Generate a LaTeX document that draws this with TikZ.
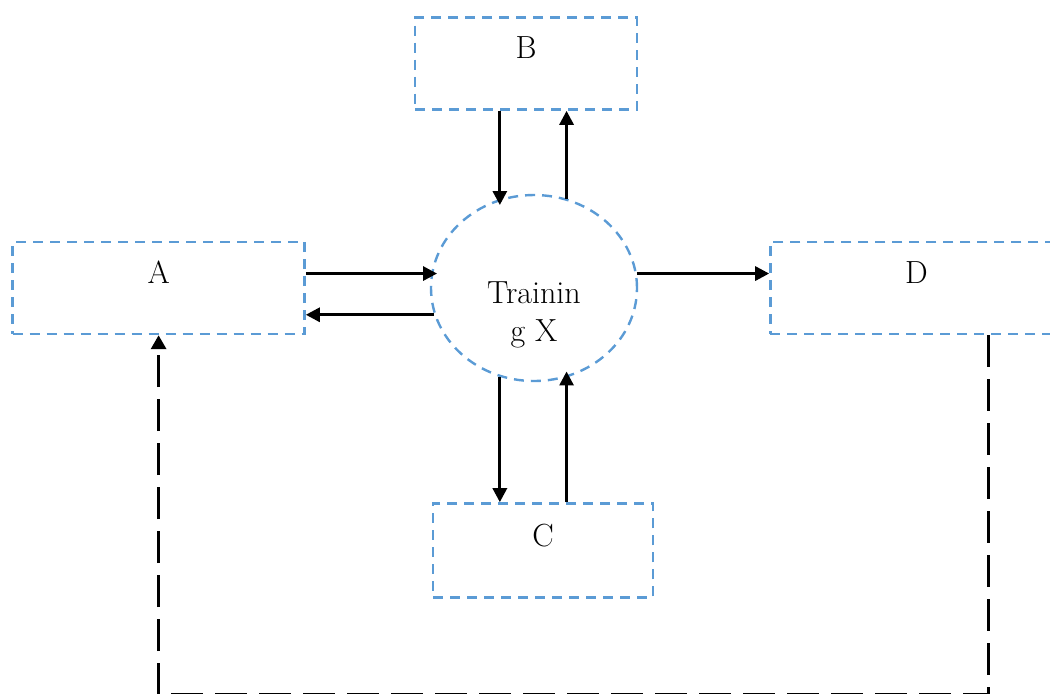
\documentclass[tikz,border=0pt]{standalone}
\usepackage{tikz}
\usepackage{xcolor}
\usetikzlibrary{positioning, shapes.geometric, arrows.meta}
\definecolor{box-blue}{RGB}{91,155,213}

\begin{document}
\begin{tikzpicture}
[
font=\fontsize{16}{19}\selectfont,
box-a/.style={rectangle, draw=box-blue, line width=1.2pt, dash pattern=on 5pt off 3.5pt, minimum height=46pt, inner sep=0pt},
hub-a/.style={ellipse, draw=box-blue, line width=1.2pt, dash pattern=on 5pt off 3.5pt, minimum width=103pt, minimum height=93pt, inner sep=0pt},
text-a/.style={black, inner sep=0pt},
arrow-a/.style={black, line width=1.5pt, -{Triangle[length=7pt, width=7pt]}},
loop-a/.style={black, line width=1.6pt, dash pattern=on 16pt off 6pt, -{Triangle[length=7pt, width=7.5pt]}}
]
\useasboundingbox (0,0) rectangle (525pt,-346.5pt);
\clip (0,0) rectangle (525pt,-346.5pt);
\node (train)      [hub-a                                          ] at (267pt,-144pt) {};
\node (A)          [box-a, minimum width=146pt, left  = 62pt of train] {};
\node (D)          [box-a, minimum width=146pt, right = 65.5pt of train] {};
\node (B)          [box-a, minimum width=111pt, above = 41.5pt of train, xshift=-4pt] {};
\node (C)          [box-a, minimum width=110pt, minimum height=47pt, below = 60pt of train, xshift=4.5pt] {};
\node (A-text)     [text-a, below = 10pt of A.north] {A};
\node (B-text)     [text-a, below = 10pt of B.north] {B};
\node (C-text)     [text-a, below = 11pt of C.north] {C};
\node (D-text)     [text-a, below = 10pt of D.north] {D};
\node (train-text) [text-a, align=center, anchor=north] at ([yshift=3.5pt]train.center) {Trainin\\g X};
% arrows to and from the hub
\draw [arrow-a, shorten >=-3pt] (B.south -| train.111) -- (train.111);
\draw [arrow-a] (train.70) -- (train.70 |- B.south);
\draw [arrow-a, shorten >=-3pt] (A.east |- train.172) -- (train.172);
\draw [arrow-a] (train.195) -- (train.195 -| A.east);
\draw [arrow-a] (train.8) -- (train.8 -| D.west);
\draw [arrow-a] (train.249) -- (train.249 |- C.north);
\draw [arrow-a, shorten >=-3pt] (train.290 |- C.north) -- (train.290);
% feedback from D to A
\draw [loop-a] ([xshift=36pt]D.south) -- ++(0,-179.5pt) -| (A.south);
\end{tikzpicture}
\end{document}
